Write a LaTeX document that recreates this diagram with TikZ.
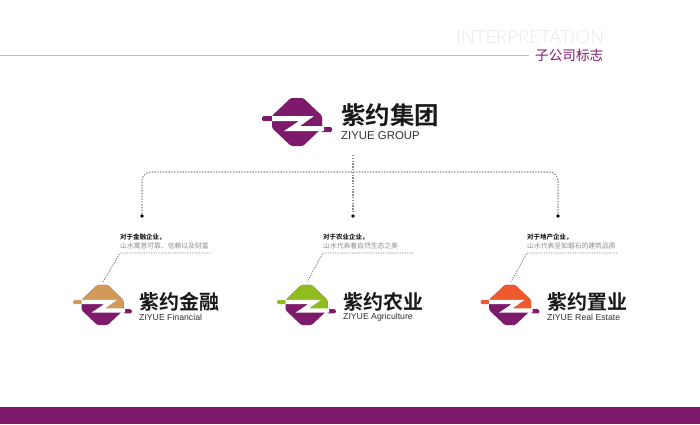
\documentclass[tikz,border=0pt]{standalone}
\usepackage{fontspec}
\setmainfont{Liberation Sans}
\newfontfamily\cjk{Noto Sans CJK SC}
\newfontfamily\cjkb{Noto Sans CJK SC Bold}
\newfontfamily\latl{Lato Light}
\definecolor{zpurple}{HTML}{7E1A6B}
\definecolor{zgold}{HTML}{D29A58}
\definecolor{zgreen}{HTML}{8FBC1E}
\definecolor{zorange}{HTML}{EE5A2E}
\tikzset{
  brandname/.style={inner sep=0pt,anchor=west,font=\cjkb\fontsize{#1}{#1}\selectfont,text=black!90},
  brandlatin/.style={inner sep=0pt,anchor=west,text=black!80},
  headtxt/.style={inner sep=0pt,anchor=west,font=\cjkb\fontsize{6.5}{7}\selectfont,text=black},
  bodytxt/.style={inner sep=0pt,anchor=west,font=\cjk\fontsize{6.8}{7}\selectfont,text=black!45},
  treeline/.style={draw=black!45,line width=1.1pt,dash pattern=on 1.4pt off 1.4pt},
  leader/.style={draw=black!50,line width=.9pt,dash pattern=on 1.2pt off 1.2pt},
  enddot/.style={circle,fill=black,inner sep=0pt,minimum size=3.8pt}
}
% #1 x, #2 y, #3 scale, #4 upper colour
\newcommand{\zoct}{[rounded corners=1.5pt] (-6,-24)--(6,-24)--(25,-6)--(25,6)--(6,24)--(-6,24)--(-25,6)--(-25,-6)--cycle}
\newcommand{\zlogo}[4]{%
  \begin{scope}[shift={(#1,#2)},scale=#3]
    \fill[zpurple] \zoct;
    \begin{scope}
      \clip (-40,-30)--(40,-30)--(40,6.5)--(4,6.5)--(0,-3)--(-40,-3)--cycle;
      \fill[#4] \zoct;
    \end{scope}
    \fill[#4,rounded corners=1.5pt] (-35,-6)--(-24,-6)--(-24,-1)--(-35,-1)--cycle;
    \fill[zpurple,rounded corners=1.5pt] (24,5)--(35,5)--(35,10)--(24,10)--cycle;
    \fill[white] (-25,-6)--(17,-6)--(3,4)--(27,4)--(27,9)--(-13,9)--(2,-1)--(-25,-1)--cycle;
  \end{scope}}
\begin{document}
\begin{tikzpicture}[x=1pt,y=-1pt]
\useasboundingbox (0,0) rectangle (700,424);
\fill[zpurple] (0,407) rectangle (700,424);
% header
\node[inner sep=0pt,anchor=west,font=\latl\fontsize{18.4}{22}\selectfont,text=black!9] (hen) at (456,37) {INTERPRETATION};
\node[inner sep=0pt,anchor=west,font=\cjk\fontsize{13.6}{14}\selectfont,text=zpurple] (hcn) at (535,55) {子公司标志};
\coordinate (hl) at (0,55.5);
\coordinate (hr) at (529,55.5);
\draw[black!25,line width=.6pt] (hl) -- (hr);
% main logo
\zlogo{297}{122}{1}{zpurple}
\node[brandname=24.5] (mainname) at (341,115) {紫约集团};
\node[brandlatin,font=\fontsize{11.4}{12}\selectfont] (mainlat) at (341,136) {ZIYUE GROUP};
% tree
\coordinate (top) at (353,155);
\coordinate (join) at (353,172);
\node[enddot] (d1) at (142,216) {};
\node[enddot] (d2) at (353,216) {};
\node[enddot] (d3) at (558,216) {};
\draw[treeline] (top) -- (d2);
\draw[treeline,rounded corners=9pt] (d1) |- (join) -| (d3);
% sub 1
\node[headtxt] (a1) at (120,237) {对于金融企业，};
\node[bodytxt] (b1) at (120,246) {山水寓意可靠、信赖以及财富};
\coordinate (l1a) at (210,253); \coordinate (l1b) at (120,253); \coordinate (l1c) at (103,282);
\draw[leader] (l1a) -- (l1b) -- (l1c);
\zlogo{102.5}{305}{.84}{zgold}
\node[brandname=20] (n1) at (139,301.5) {紫约金融};
\node[brandlatin,font=\fontsize{8.7}{10}\selectfont] (z1) at (139,317) {ZIYUE Financial};
% sub 2
\node[headtxt] (a2) at (323,237) {对于农业企业，};
\node[bodytxt] (b2) at (323,246) {山水代表着自然生态之美};
\coordinate (l2a) at (413,253); \coordinate (l2b) at (323,253); \coordinate (l2c) at (307,282);
\draw[leader] (l2a) -- (l2b) -- (l2c);
\zlogo{306.5}{305}{.84}{zgreen}
\node[brandname=20] (n2) at (343,301.5) {紫约农业};
\node[brandlatin,font=\fontsize{8.7}{10}\selectfont] (z2) at (343,317) {ZIYUE Agriculture};
% sub 3
\node[headtxt] (a3) at (527,237) {对于地产企业，};
\node[bodytxt] (b3) at (527,246) {山水代表坚如磐石的建筑品质};
\coordinate (l3a) at (617,253); \coordinate (l3b) at (527,253); \coordinate (l3c) at (511,282);
\draw[leader] (l3a) -- (l3b) -- (l3c);
\zlogo{510}{305}{.84}{zorange}
\node[brandname=20] (n3) at (547,301.5) {紫约置业};
\node[brandlatin,font=\fontsize{8.7}{10}\selectfont] (z3) at (547,317) {ZIYUE Real Estate};
\end{tikzpicture}
\end{document}
